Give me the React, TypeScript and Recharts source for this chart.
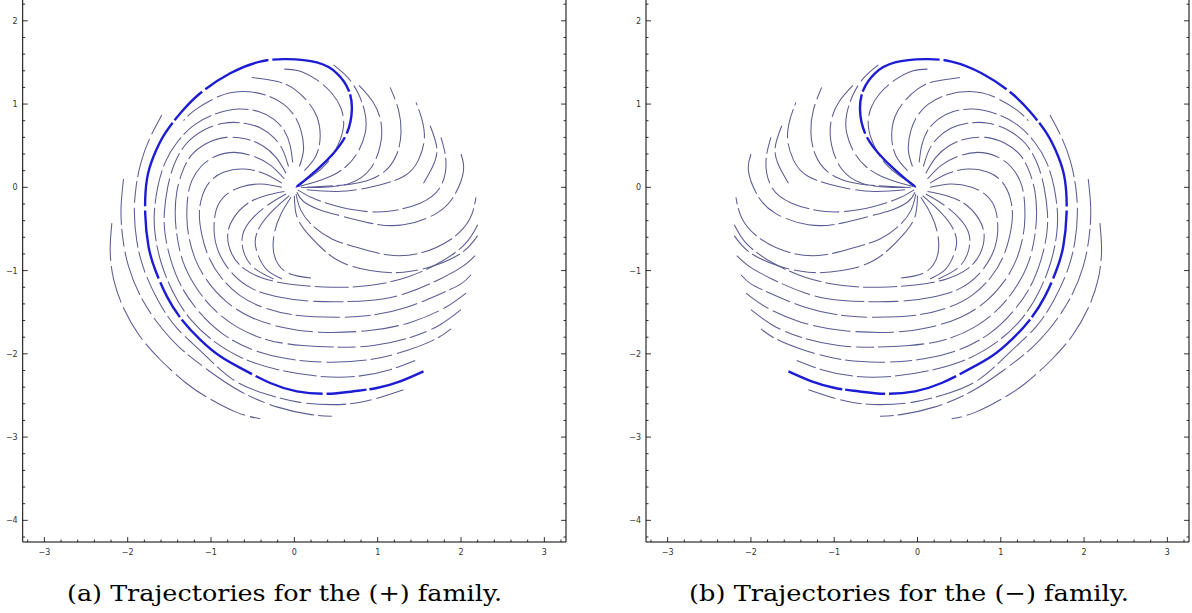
import React from 'react';
import { ScatterChart, Scatter, XAxis, YAxis } from 'recharts';

// Trajectories of the (+) family. Panel (b) is the same picture mirrored in x = 0.
type Arc = number[][];

const thick: Arc = [
  [0.02, 0.01], [0.07, 0.04], [0.27, 0.21], [0.47, 0.41], [0.63, 0.65], [0.69, 0.93], [0.65, 1.17],
  [0.51, 1.37], [0.27, 1.5], [-0.09, 1.54], [-0.41, 1.51], [-0.77, 1.37], [-1.13, 1.13], [-1.35, 0.91],
  [-1.55, 0.65], [-1.69, 0.37], [-1.77, 0.09], [-1.79, -0.31], [-1.75, -0.71], [-1.67, -0.99],
  [-1.53, -1.31], [-1.35, -1.59], [-1.13, -1.83], [-0.89, -2.03], [-0.61, -2.19], [-0.29, -2.35],
  [0.03, -2.45], [0.39, -2.48], [0.71, -2.45], [0.99, -2.41], [1.27, -2.33], [1.55, -2.21],
];

// small loops in the upper lobe
const u1: Arc = [[0.06, 0.04], [0.22, 0.14], [0.39, 0.29], [0.52, 0.5], [0.59, 0.73], [0.56, 0.95], [0.45, 1.13], [0.27, 1.29], [0.05, 1.4], [-0.12, 1.42]];
const u2: Arc = [[0.12, 0.2], [0.26, 0.38], [0.31, 0.62], [0.27, 0.85], [0.16, 1.03], [0.0, 1.18], [-0.2, 1.27], [-0.51, 1.32]];
const u3: Arc = [[0.06, 0.25], [0.11, 0.45], [0.08, 0.68], [0.0, 0.86], [-0.13, 1.0], [-0.35, 1.11], [-0.63, 1.15], [-0.91, 1.09], [-1.19, 0.93], [-1.33, 0.8]];

// nested spirals inside the thick one (over the top, down the left side, along the bottom)
const s1: Arc = [[-0.02, 0.3], [-0.05, 0.5], [-0.12, 0.68], [-0.25, 0.82], [-0.43, 0.91], [-0.67, 0.94], [-0.95, 0.88], [-1.2, 0.75], [-1.4, 0.55], [-1.55, 0.3], [-1.64, 0.0], [-1.68, -0.3], [-1.67, -0.57], [-1.6, -0.9], [-1.46, -1.25], [-1.25, -1.58], [-0.95, -1.86], [-0.58, -2.07], [-0.15, -2.2], [0.3, -2.27], [0.75, -2.27], [1.15, -2.19], [1.45, -2.08]];
const s2: Arc = [[-0.07, 0.25], [-0.14, 0.45], [-0.25, 0.6], [-0.4, 0.71], [-0.6, 0.77], [-0.85, 0.77], [-1.1, 0.68], [-1.3, 0.52], [-1.44, 0.28], [-1.52, 0.0], [-1.56, -0.3], [-1.55, -0.57], [-1.48, -0.88], [-1.35, -1.2], [-1.14, -1.5], [-0.86, -1.76], [-0.5, -1.95], [-0.08, -2.06], [0.4, -2.1], [0.9, -2.07], [1.35, -1.96], [1.7, -1.82], [1.88, -1.7]];
const s3: Arc = [[-0.1, 0.17], [-0.22, 0.36], [-0.38, 0.5], [-0.58, 0.58], [-0.82, 0.6], [-1.05, 0.53], [-1.24, 0.38], [-1.35, 0.17], [-1.41, -0.05], [-1.43, -0.3], [-1.41, -0.57], [-1.34, -0.88], [-1.2, -1.17], [-0.99, -1.44], [-0.7, -1.67], [-0.33, -1.83], [0.1, -1.9], [0.55, -1.92], [0.95, -1.9], [1.4, -1.8], [1.75, -1.65], [2.0, -1.47]];
const s4: Arc = [[-0.12, 0.1], [-0.28, 0.26], [-0.48, 0.37], [-0.72, 0.42], [-0.95, 0.37], [-1.12, 0.25], [-1.23, 0.08], [-1.28, -0.12], [-1.29, -0.35], [-1.27, -0.57], [-1.19, -0.86], [-1.04, -1.13], [-0.82, -1.37], [-0.52, -1.56], [-0.15, -1.68], [0.3, -1.74], [0.9, -1.72], [1.4, -1.62], [1.8, -1.45], [2.06, -1.27]];
const s5: Arc = [[-0.15, 0.05], [-0.35, 0.16], [-0.6, 0.22], [-0.85, 0.18], [-1.02, 0.06], [-1.11, -0.12], [-1.14, -0.33], [-1.11, -0.57], [-1.03, -0.83], [-0.88, -1.08], [-0.65, -1.3], [-0.35, -1.45], [0.05, -1.54], [0.5, -1.56], [0.9, -1.54], [1.35, -1.44], [1.75, -1.28], [2.0, -1.16], [2.12, -1.05]];
const s6: Arc = [[-0.15, 0.0], [-0.4, 0.04], [-0.65, 0.0], [-0.83, -0.1], [-0.94, -0.28], [-0.96, -0.57], [-0.89, -0.82], [-0.74, -1.04], [-0.5, -1.22], [-0.17, -1.32], [0.25, -1.37], [0.9, -1.36], [1.35, -1.27], [1.75, -1.1], [2.02, -0.95], [2.17, -0.82]];
const s7: Arc = [[-0.12, -0.05], [-0.35, -0.1], [-0.57, -0.2], [-0.73, -0.37], [-0.8, -0.57], [-0.75, -0.8], [-0.6, -0.98], [-0.35, -1.1], [0.0, -1.17], [0.45, -1.2], [0.9, -1.18], [1.35, -1.08], [1.75, -0.9], [2.05, -0.68], [2.2, -0.45]];
// shorter arcs just left of the origin, heading down
const s8: Arc = [[-0.1, -0.08], [-0.3, -0.2], [-0.5, -0.37], [-0.62, -0.57], [-0.6, -0.8], [-0.47, -0.98], [-0.25, -1.1]];
const s9: Arc = [[-0.06, -0.1], [-0.25, -0.27], [-0.4, -0.45], [-0.47, -0.65], [-0.42, -0.85], [-0.32, -1.0], [-0.15, -1.1]];
const s10: Arc = [[-0.04, -0.12], [-0.16, -0.32], [-0.24, -0.55], [-0.25, -0.77], [-0.19, -0.93], [-0.05, -1.04], [0.2, -1.09]];

// bowls below the origin that rise to the right side
const a1: Arc = [[0.04, -0.03], [0.2, -0.12], [0.39, -0.19], [0.71, -0.27], [1.11, -0.29], [1.51, -0.19], [1.75, 0.0], [1.82, 0.3], [1.76, 0.6]];
const a2: Arc = [[0.03, -0.06], [0.11, -0.17], [0.3, -0.27], [0.51, -0.33], [0.91, -0.43], [1.31, -0.45], [1.71, -0.31], [1.93, -0.08], [2.03, 0.2], [2.0, 0.4]];
const a3: Arc = [[0.02, -0.08], [0.08, -0.28], [0.23, -0.47], [0.45, -0.62], [0.71, -0.71], [1.11, -0.81], [1.51, -0.79], [1.87, -0.63], [2.1, -0.39], [2.18, -0.12]];
const a4: Arc = [[0.0, -0.1], [0.03, -0.35], [0.19, -0.59], [0.51, -0.87], [0.91, -1.0], [1.31, -1.02], [1.71, -0.93], [2.03, -0.77], [2.2, -0.58]];

// lobes that leave the origin to the right
const r1: Arc = [[0.05, 0.01], [0.2, 0.05], [0.43, 0.13], [0.62, 0.25], [0.76, 0.42], [0.85, 0.65], [0.85, 0.88], [0.77, 1.12], [0.64, 1.32], [0.47, 1.47]];
const r2: Arc = [[0.08, 0.0], [0.35, 0.0], [0.67, 0.05], [0.91, 0.22], [1.03, 0.5], [1.04, 0.78], [0.94, 1.03], [0.75, 1.25]];
const r3: Arc = [[0.15, 0.0], [0.5, 0.02], [0.8, 0.06], [1.07, 0.18], [1.23, 0.4], [1.28, 0.66], [1.25, 0.93], [1.15, 1.2]];
const r4: Arc = [[0.15, -0.03], [0.51, -0.05], [0.91, 0.0], [1.31, 0.13], [1.49, 0.33], [1.56, 0.58], [1.53, 0.82], [1.46, 1.02]];
const r5: Arc = [[1.55, 0.05], [1.66, 0.25], [1.71, 0.47], [1.63, 0.74]];

// arcs outside the thick spiral
const o1: Arc = [[-1.59, 0.87], [-1.73, 0.6], [-1.84, 0.3], [-1.9, 0.0], [-1.92, -0.3], [-1.89, -0.65], [-1.8, -1.0], [-1.64, -1.35], [-1.42, -1.68], [-1.12, -1.97], [-0.75, -2.3], [-0.35, -2.48], [0.05, -2.58], [0.45, -2.61], [0.85, -2.57], [1.31, -2.43]];
const o2: Arc = [[-2.05, 0.1], [-2.08, -0.25], [-2.06, -0.6], [-1.99, -0.95], [-1.85, -1.3], [-1.64, -1.63], [-1.37, -1.93], [-1.03, -2.2], [-0.65, -2.45], [-0.2, -2.64], [0.2, -2.73], [0.45, -2.75]];
const o3: Arc = [[-2.19, -0.43], [-2.21, -0.75], [-2.17, -1.1], [-2.05, -1.45], [-1.86, -1.78], [-1.6, -2.08], [-1.3, -2.35], [-1.05, -2.52], [-0.7, -2.7], [-0.41, -2.78]];

const thinArcs: Arc[] = [u1, u2, u3, s1, s2, s3, s4, s5, s6, s7, s8, s9, s10, a1, a2, a3, a4, r1, r2, r3, r4, r5, o1, o2, o3];

const xMajor = [-3, -2, -1, 0, 1, 2, 3];
const yMajor = [-4, -3, -2, -1, 0, 1, 2];
const xDomain = [-3.26, 3.26];
const yDomain = [-4.26, 2.25];

function minorTicks(lo: number, hi: number) {
  const out: number[] = [];
  for (let v = lo; v <= hi + 1e-9; v += 0.2) out.push(Math.round(v * 10) / 10);
  return out;
}
const xTicks = minorTicks(-3.2, 3.2);
const yTicks = minorTicks(-4.2, 2.2);
const isMajor = (v: number) => Math.abs(v - Math.round(v)) < 1e-6 && (xMajor.includes(Math.round(v)) || yMajor.includes(Math.round(v)));
const fmt = (v: number) => (v < 0 ? '\u2212' + Math.abs(v) : String(v));

const THIN = '#5c5c94';
const THICK = '#1c1cd4';
const DASHES = ['38 5', '26 4 44 5', '50 5 30 4', '34 4', '22 5 40 4', '46 4 18 5'];
const label = { fontSize: 8, fill: '#333', fontFamily: 'DejaVu Sans, sans-serif' };

const BottomTick = (p: any) => {
  const v = p.payload.value;
  const major = isMajor(v);
  const y0 = p.y - 8;
  return (
    <g>
      <line x1={p.x} x2={p.x} y1={y0} y2={y0 - (major ? 5 : 2.5)} stroke="#000" strokeWidth={0.8} />
      {major && <text x={p.x} y={y0 + 13} textAnchor="middle" {...label}>{fmt(v)}</text>}
    </g>
  );
};
const TopTick = (p: any) => {
  const major = isMajor(p.payload.value);
  return <line x1={p.x} x2={p.x} y1={p.y} y2={p.y + (major ? 5 : 2.5)} stroke="#000" strokeWidth={0.8} />;
};
const LeftTick = (p: any) => {
  const v = p.payload.value;
  const major = isMajor(v);
  const x0 = p.x + 6;
  return (
    <g>
      <line x1={x0} x2={x0 + (major ? 5 : 2.5)} y1={p.y} y2={p.y} stroke="#000" strokeWidth={0.8} />
      {major && <text x={x0 - 5} y={p.y + 3} textAnchor="end" {...label}>{fmt(v)}</text>}
    </g>
  );
};
const RightTick = (p: any) => {
  const major = isMajor(p.payload.value);
  return <line x1={p.x} x2={p.x - (major ? 5 : 2.5)} y1={p.y} y2={p.y} stroke="#000" strokeWidth={0.8} />;
};
const Empty = () => <g />;

function Panel({ flip, width, leftW, rightW }: { flip: boolean; width: number; leftW: number; rightW: number }) {
  const toPts = (arc: Arc) => arc.map(([x, y]) => ({ x: flip ? -x : x, y }));
  return (
    <ScatterChart width={width} height={560} margin={{ top: 0, right: 0, bottom: 0, left: 0 }}>
      <XAxis xAxisId="b" type="number" dataKey="x" domain={xDomain} allowDataOverflow ticks={xTicks} interval={0}
        tickSize={0} tickMargin={8} tickLine={false} axisLine={{ stroke: '#000', strokeWidth: 1 }} tick={BottomTick} height={18} />
      <XAxis xAxisId="t" orientation="top" type="number" dataKey="x" domain={xDomain} allowDataOverflow ticks={xTicks} interval={0}
        tickSize={0} tickMargin={0} tickLine={false} axisLine={{ stroke: '#000', strokeWidth: 1 }} tick={TopTick} height={0} />
      <YAxis yAxisId="l" type="number" dataKey="y" domain={yDomain} allowDataOverflow ticks={yTicks} interval={0}
        tickSize={0} tickMargin={6} tickLine={false} axisLine={{ stroke: '#000', strokeWidth: 1 }} tick={LeftTick} width={leftW} />
      <YAxis yAxisId="r" orientation="right" type="number" dataKey="y" domain={yDomain} allowDataOverflow ticks={yTicks} interval={0}
        tickSize={0} tickMargin={0} tickLine={false} axisLine={{ stroke: '#000', strokeWidth: 1 }} tick={RightTick} width={rightW} />
      <Scatter xAxisId="t" yAxisId="r" data={toPts(thick)} shape={Empty} isAnimationActive={false} />
      {thinArcs.map((arc, i) => (
        <Scatter key={i} xAxisId="b" yAxisId="l" data={toPts(arc)} shape={Empty} lineJointType="natural"
          line={{ stroke: THIN, strokeWidth: 1.05, strokeDasharray: DASHES[i % DASHES.length] }} isAnimationActive={false} />
      ))}
      <Scatter xAxisId="b" yAxisId="l" data={toPts(thick)} shape={Empty} lineJointType="natural"
        line={{ stroke: THICK, strokeWidth: 2.4, strokeDasharray: '70 4 40 3 90 4' }} isAnimationActive={false} />
    </ScatterChart>
  );
}

export default function App() {
  const cap = { fontFamily: "'DejaVu Serif', serif", fontSize: 22.5 };
  return (
    <div style={{ position: 'absolute', left: 0, top: 0, width: 1192, height: 613, background: '#fff', overflow: 'hidden' }}>
      <div style={{ position: 'absolute', left: 0, top: 0 }}>
        <Panel flip={false} width={590} leftW={22.7} rightW={24} />
      </div>
      <div style={{ position: 'absolute', left: 620, top: 0 }}>
        <Panel flip width={572} leftW={26} rightW={3} />
      </div>
      <svg width={1192} height={613} style={{ position: 'absolute', left: 0, top: 0, pointerEvents: 'none' }}>
        <text x={67} y={601} {...cap} textLength={435} lengthAdjust="spacingAndGlyphs">
          (a) Trajectories for the (+) family.
        </text>
        <text x={689} y={601} {...cap} textLength={440} lengthAdjust="spacingAndGlyphs">
          (b) Trajectories for the (&#8722;) family.
        </text>
      </svg>
    </div>
  );
}
